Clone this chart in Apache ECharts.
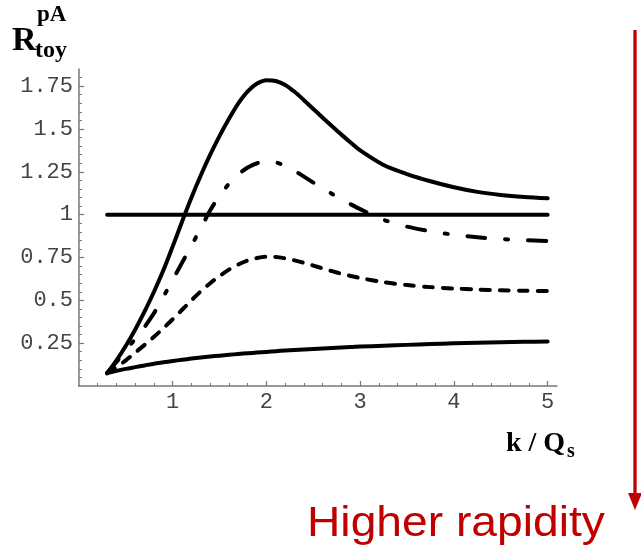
<!DOCTYPE html>
<html><head><meta charset="utf-8">
<script src="https://cdn.jsdelivr.net/npm/echarts@6/dist/echarts.min.js"></script>
<style>html,body{margin:0;padding:0;background:#fff}#c{width:641px;height:552px}</style>
</head><body><div id="c"></div>
<script>
// k / Q_s sample positions
const kValues = [0.3,0.4,0.5,0.6,0.7,0.8,0.9,1.0,1.1,1.2,1.3,1.4,1.5,1.6,1.7,1.8,1.9,2.0,2.1,2.2,2.3,2.4,2.5,2.6,2.7,2.8,2.9,3.0,3.25,3.5,3.75,4.0,4.25,4.5,4.75,5.0];
// top solid curve
const curveTop = [0.075,0.15,0.235,0.33,0.435,0.55,0.675,0.815,0.96,1.10,1.23,1.35,1.46,1.56,1.65,1.72,1.765,1.785,1.78,1.757,1.717,1.668,1.617,1.566,1.516,1.467,1.42,1.375,1.29,1.237,1.195,1.16,1.133,1.115,1.103,1.095];
// dash-dot curve
const curveDashDot = [0.075,0.14,0.21,0.275,0.345,0.425,0.52,0.62,0.72,0.82,0.922,1.025,1.11,1.18,1.235,1.275,1.30,1.31,1.305,1.285,1.256,1.222,1.187,1.153,1.121,1.09,1.06,1.032,0.97,0.93,0.903,0.883,0.868,0.858,0.851,0.846];
// dashed curve
const curveDashed = [0.075,0.11,0.15,0.195,0.24,0.287,0.337,0.39,0.445,0.50,0.553,0.60,0.642,0.679,0.709,0.732,0.747,0.754,0.753,0.745,0.733,0.719,0.703,0.686,0.67,0.655,0.642,0.63,0.606,0.589,0.577,0.569,0.563,0.559,0.556,0.554];
// bottom solid curve
const curveBottom = [0.075,0.088,0.10,0.11,0.12,0.13,0.138,0.146,0.153,0.16,0.166,0.172,0.177,0.182,0.187,0.191,0.195,0.199,0.203,0.207,0.21,0.213,0.216,0.219,0.222,0.225,0.227,0.23,0.235,0.24,0.245,0.249,0.252,0.255,0.258,0.26];
// reference line R = 1
const unityK = [0.3, 5.0];
const unityR = [1, 1];
// ticks
const xTickValues = [1,2,3,4,5];
const yTickValues = [0.25,0.5,0.75,1,1.25,1.5,1.75];
const xMinorTickValues = [];
for (let i = 1; i <= 25; i++) xMinorTickValues.push(+(i*0.2).toFixed(2));
const yMinorTickValues = [];
for (let i = 1; i <= 36; i++) yMinorTickValues.push(+(i*0.05).toFixed(2));

const pairs = (xs, ys) => xs.map((x, i) => [x, ys[i]]);
const axisGray = '#777';
const tickFont = { fontFamily: 'Liberation Mono', fontSize: 22, color: '#444' };

const chart = echarts.init(document.getElementById('c'), null, { renderer: 'canvas' });

function lineSeries(ys, type, xs) {
  return {
    type: 'line', xAxisIndex: 0, yAxisIndex: 0,
    data: pairs(xs || kValues, ys),
    smooth: 0.3, showSymbol: false, symbol: 'none', silent: true,
    lineStyle: { color: '#000', width: 4, type: type, cap: 'round', join: 'round' }
  };
}

chart.setOption({
  animation: false,
  backgroundColor: '#fff',
  grid: { left: 79, top: 69, width: 478, height: 317, containLabel: false },
  xAxis: [
    { type: 'value', min: 0, max: 5.1, position: 'bottom',
      axisLine: { show: true, lineStyle: { color: axisGray, width: 1.5 } },
      axisTick: { show: true, inside: true, length: 5, customValues: xTickValues, lineStyle: { color: axisGray, width: 1.2 } },
      axisLabel: { show: true, customValues: xTickValues, margin: 5, ...tickFont },
      splitLine: { show: false } },
    { type: 'value', min: 0, max: 5.1, position: 'bottom', gridIndex: 0,
      axisLine: { show: false },
      axisTick: { show: true, inside: true, length: 3, customValues: xMinorTickValues, lineStyle: { color: axisGray, width: 1 } },
      axisLabel: { show: false },
      splitLine: { show: false } }
  ],
  yAxis: [
    { type: 'value', min: 0, max: 1.85, position: 'left',
      axisLine: { show: true, lineStyle: { color: axisGray, width: 1.5 } },
      axisTick: { show: true, inside: true, length: 5, customValues: yTickValues, lineStyle: { color: axisGray, width: 1.2 } },
      axisLabel: { show: true, customValues: yTickValues, margin: 6, ...tickFont },
      splitLine: { show: false } },
    { type: 'value', min: 0, max: 1.85, position: 'left', gridIndex: 0,
      axisLine: { show: false },
      axisTick: { show: true, inside: true, length: 3, customValues: yMinorTickValues, lineStyle: { color: axisGray, width: 1 } },
      axisLabel: { show: false },
      splitLine: { show: false } }
  ],
  series: [
    lineSeries(unityR, 'solid', unityK),
    lineSeries(curveTop, 'solid'),
    lineSeries(curveDashDot, [18, 20, 3, 20]),
    lineSeries(curveDashed, [9, 10]),
    lineSeries(curveBottom, 'solid')
  ],
  graphic: [
    { type: 'text', left: 12, top: 24, style: { text: 'R', font: 'bold 34px "Liberation Serif"', fill: '#000' } },
    { type: 'text', left: 37, top: 4, style: { text: 'pA', font: 'bold 23px "Liberation Serif"', fill: '#000' } },
    { type: 'text', left: 35, top: 39, style: { text: 'toy', font: 'bold 24px "Liberation Serif"', fill: '#000' } },
    { type: 'text', left: 506, top: 430, style: { text: 'k / Q', font: 'bold 28px "Liberation Serif"', fill: '#000' } },
    { type: 'text', left: 567, top: 442, style: { text: 's', font: 'bold 20px "Liberation Serif"', fill: '#000' } },
    { type: 'text', x: 307, y: 503, scaleX: 1.1, style: { text: 'Higher rapidity', font: '42px "Liberation Sans"', fill: '#c00000' } },
    { type: 'line', shape: { x1: 635, y1: 30, x2: 635, y2: 496 }, style: { stroke: '#c00000', lineWidth: 3.3 } },
    { type: 'polygon', shape: { points: [[628, 493], [642, 493], [635, 510]] }, style: { fill: '#c00000' } }
  ]
});
</script>
</body></html>
